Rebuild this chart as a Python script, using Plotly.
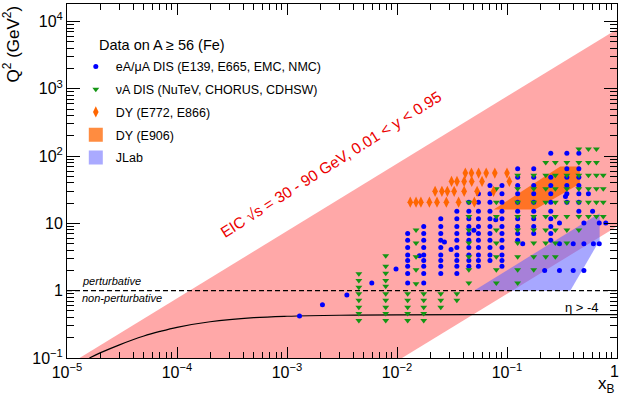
import numpy as np
import plotly.graph_objects as go

# ---- data ----
# EIC kinematic band (corners), sqrt(s)=30-90 GeV, 0.01<y<0.95
eic_x = [1.3e-5, 1.0, 1.0, 0.0111]
eic_q2 = [0.1, 7700.0, 9.0, 0.1]

# JLab region
jlab_x = [0.050, 0.695, 0.695, 0.376, 0.050]
jlab_q2 = [1.0, 14.2, 5.6, 1.0, 1.0]

# DY E906 region
e906_x = [0.0755, 0.18, 0.46, 0.46, 0.305, 0.0755]
e906_q2 = [16.1, 16.1, 38.7, 69.8, 69.8, 16.1]

# eta > -4 acceptance curve
eta_x = [1.6e-5, 2e-5, 3e-5, 5e-5, 7e-5, 1e-4, 2e-4, 5e-4, 1e-3, 3e-3, 1e-2, 1e-1, 1.0]
eta_q2 = [0.100, 0.119, 0.157, 0.212, 0.248, 0.286, 0.346, 0.397, 0.417, 0.432, 0.438, 0.440, 0.441]

# eA / muA DIS (E139, E665, EMC, NMC) - columns in x
dis_col_x = [0.0125, 0.0175, 0.025, 0.035, 0.045, 0.055, 0.07, 0.09, 0.125, 0.175, 0.25, 0.35, 0.45]
dis_col_q2 = [
    [1.3, 1.8, 2.3, 2.8, 3.4, 4.4, 5.6, 7.1],
    [1.3, 1.8, 2.3, 2.8, 3.4, 4.4, 5.6, 7.1, 9.0],
    [1.8, 2.3, 2.8, 3.4, 4.4, 5.6, 7.1, 9.0, 11.7],
    [1.8, 2.3, 2.8, 3.4, 4.4, 5.6, 7.1, 9.0, 11.7, 15.2],
    [2.3, 2.8, 3.4, 4.4, 5.6, 7.1, 9.0, 11.7, 15.2, 20.7],
    [2.3, 2.8, 3.4, 4.4, 5.6, 7.1, 9.0, 11.7, 15.2, 20.7, 27.5],
    [2.8, 3.4, 4.4, 5.6, 7.1, 9.0, 11.7, 15.2, 20.7, 27.5, 36.5],
    [2.3, 2.8, 3.4, 4.4, 5.6, 7.1, 9.0, 11.7, 15.2, 20.7, 27.5, 36.5],
    [5.6, 7.1, 9.0, 11.7, 15.2, 20.7, 27.5, 36.5, 48.5, 64.6],
    [7.1, 9.0, 11.7, 15.2, 20.7, 27.5, 36.5, 48.5, 64.6],
    [5.6, 7.1, 9.0, 11.7, 15.2, 20.7, 27.5, 36.5, 48.5, 110],
    [20.7, 27.5, 36.5, 48.5, 64.6, 110],
    [15.2, 20.7, 27.5, 36.5, 48.5, 64.6, 110],
]
dis_extra_x = [0.0013, 0.0021, 0.0035, 0.0059, 0.0098, 0.016, 0.027, 0.031, 0.050, 0.079,
               0.139, 0.22, 0.30, 0.30, 0.30, 0.40, 0.40, 0.50, 0.50, 0.50, 0.61, 0.69, 0.69, 0.79,
               0.34, 0.55, 0.60]
dis_extra_q2 = [0.42, 0.62, 0.86, 1.3, 2.1, 3.3, 5.3, 4.1, 7.9, 11.3,
                5.0, 2.0, 10.1, 5.0, 2.0, 5.0, 2.0, 10.1, 5.0, 2.0, 5.0, 5.0, 10.1, 10.1,
                25.0, 27.5, 15.2]

# nuA DIS (NuTeV, CHORUS, CDHSW)
nu_col_x = [0.0045, 0.0079, 0.0125, 0.0149, 0.0175, 0.025, 0.035,
            0.045, 0.08, 0.125, 0.175, 0.225, 0.275, 0.35, 0.45, 0.55, 0.65, 0.75]
nu_col_q2 = [
    [0.36, 0.46, 0.57, 0.72, 0.90, 1.13, 1.42, 1.79],
    [0.36, 0.46, 0.57, 0.72, 0.90, 1.16, 1.42, 1.82, 2.3, 3.3],
    [0.36, 0.46, 0.57, 0.72, 0.90],
    [1.27, 2.05, 3.2, 5.1, 8.0],
    [0.36, 0.46, 0.57, 0.72, 0.90],
    [0.57, 0.72, 0.90],
    [0.72, 0.90],
    [1.3, 2.05, 3.2, 5.1, 8.0, 12.7, 20.7],
    [1.3, 2.05, 3.2, 5.1, 8.0, 12.7, 20.7, 32.6],
    [1.3, 2.05, 3.2, 5.1, 8.0, 12.7, 20.7, 32.6, 52],
    [2.05, 3.2, 5.1, 8.0, 12.7, 20.7, 32.6, 52],
    [3.2, 5.1, 8.0, 12.7, 20.7, 32.6, 52, 80],
    [3.2, 5.1, 8.0, 12.7, 20.7, 32.6, 52, 80],
    [5.1, 8.0, 12.7, 20.7, 32.6, 52, 80],
    [8.0, 12.7, 20.7, 32.6, 52, 80, 128],
    [12.7, 20.7, 32.6, 52, 80, 128],
    [12.7, 20.7, 32.6, 52, 80, 128],
    [12.7, 20.7, 32.6, 52],
]

# DY (E772, E866) - rows in Q2
dy_row_q2 = [20.7, 30.0, 42.0, 56.0]
dy_row_x = [
    [0.0132, 0.0149, 0.0165, 0.0197, 0.0231, 0.0281, 0.0363, 0.0505],
    [0.0222, 0.0256, 0.0287, 0.0331, 0.0408, 0.0535, 0.0755],
    [0.0313, 0.0351, 0.0408, 0.0478, 0.0593, 0.105],
    [0.0418, 0.0475, 0.0552, 0.0647, 0.0775, 0.100],
]

x_ticks = [1e-5, 1e-4, 1e-3, 1e-2, 1e-1, 1]
x_ticktext = ["10<sup>\u22125</sup>", "10<sup>\u22124</sup>", "10<sup>\u22123</sup>",
              "10<sup>\u22122</sup>", "10<sup>\u22121</sup>", ""]  # "1" drawn as annotation
y_ticks = [0.1, 1, 10, 100, 1000, 10000]
y_ticktext = ["10<sup>\u22121</sup>", "1", "10", "10<sup>2</sup>", "10<sup>3</sup>", "10<sup>4</sup>"]

# ---- build flat point lists ----
dis_x = [x for x, qs in zip(dis_col_x, dis_col_q2) for _ in qs] + dis_extra_x
dis_q2 = [q for qs in dis_col_q2 for q in qs] + dis_extra_q2
nu_x = [x for x, qs in zip(nu_col_x, nu_col_q2) for _ in qs]
nu_q2 = [q for qs in nu_col_q2 for q in qs]
dy_x = [x for xs in dy_row_x for x in xs]
dy_q2 = [q for q, xs in zip(dy_row_q2, dy_row_x) for _ in xs]

FONT = "Liberation Sans, Arial, sans-serif"

fig = go.Figure()

fig.add_trace(go.Scatter(x=eic_x, y=eic_q2, fill="toself", mode="none",
                         fillcolor="rgb(255,168,168)", showlegend=False, hoverinfo="skip"))
fig.add_trace(go.Scatter(x=jlab_x, y=jlab_q2, fill="toself", mode="none",
                         fillcolor="rgba(95,95,255,0.55)", showlegend=False, hoverinfo="skip"))
fig.add_trace(go.Scatter(x=e906_x, y=e906_q2, fill="toself", mode="none",
                         fillcolor="rgba(255,100,0,0.78)", showlegend=False, hoverinfo="skip"))

fig.add_trace(go.Scatter(x=[1e-5, 1], y=[1, 1], mode="lines",
                         line=dict(color="black", width=1.2, dash="5px,3px"),
                         showlegend=False, hoverinfo="skip"))
fig.add_trace(go.Scatter(x=eta_x, y=eta_q2, mode="lines", line=dict(color="black", width=1.2),
                         line_shape="spline", showlegend=False, hoverinfo="skip"))

fig.add_trace(go.Scatter(x=dis_x, y=dis_q2, mode="markers", name="eA/\u03bcA DIS (E139, E665, EMC, NMC)",
                         legendgroup="g1",
                         marker=dict(symbol="circle", size=5, color="rgb(0,0,255)")))
fig.add_trace(go.Scatter(x=nu_x, y=nu_q2, mode="markers", name="\u03bdA DIS (NuTeV, CHORUS, CDHSW)",
                         legendgroup="g2",
                         marker=dict(symbol="triangle-down", size=6, color="rgb(20,150,20)")))
fig.add_trace(go.Scatter(x=dy_x, y=dy_q2, mode="markers", name="DY (E772, E866)",
                         legendgroup="g3",
                         marker=dict(symbol="diamond-tall", size=8, color="rgb(255,102,0)")))
fig.add_trace(go.Scatter(x=[None], y=[None], mode="markers", name="DY (E906)", legendgroup="g4",
                         marker=dict(symbol="square", size=14, color="rgb(255,140,64)")))
fig.add_trace(go.Scatter(x=[None], y=[None], mode="markers", name="JLab", legendgroup="g5",
                         marker=dict(symbol="square", size=14, color="rgb(170,170,255)")))

axis_common = dict(type="log", showline=True, linecolor="black", linewidth=1, mirror="allticks",
                   ticks="inside", tickcolor="black", showgrid=False, zeroline=False,
                   automargin=False,
                   tickfont=dict(family=FONT, size=16, color="black"))

fig.update_xaxes(range=[-5, 0], tickmode="array", tickvals=x_ticks, ticktext=x_ticktext,
                 ticklen=11,
                 minor=dict(tickmode="array", ticks="inside", ticklen=6, tickcolor="black",
                            tickvals=[k * 10.0 ** e for e in range(-5, 0) for k in range(2, 10)]),
                 **axis_common)
fig.update_yaxes(range=[-1, 4.26], tickmode="array", tickvals=y_ticks, ticktext=y_ticktext,
                 ticklen=13,
                 minor=dict(tickmode="array", ticks="inside", ticklen=7, tickcolor="black",
                            tickvals=[k * 10.0 ** e for e in range(-1, 5) for k in range(2, 10)]),
                 **axis_common)

annotations = [
    dict(text="Data on A \u2265 56 (Fe)", xref="paper", yref="paper", x=0.055, y=0.884,
         xanchor="left", yanchor="middle", showarrow=False, font=dict(family=FONT, size=14.5)),
    dict(text="EIC \u221as = 30 - 90 GeV, 0.01 < y < 0.95", xref="x", yref="y",
         x=-2.604, y=1.87, textangle=-32.5, showarrow=False,
         font=dict(family=FONT, size=15.5, color="rgb(235,0,0)")),
    dict(text="<i>perturbative</i>", xref="x", yref="y", x=np.log10(1.3e-5), y=np.log10(1.4),
         xanchor="left", yanchor="middle", showarrow=False, font=dict(family=FONT, size=11)),
    dict(text="<i>non-perturbative</i>", xref="x", yref="y", x=np.log10(1.3e-5), y=np.log10(0.77),
         xanchor="left", yanchor="middle", showarrow=False, font=dict(family=FONT, size=11)),
    dict(text="\u03b7 > -4", xref="x", yref="y", x=np.log10(0.32), y=np.log10(0.57),
         xanchor="left", yanchor="middle", showarrow=False, font=dict(family=FONT, size=13)),
    dict(text="1", xref="paper", yref="paper", x=0.995, y=-0.038,
         xanchor="center", yanchor="middle", showarrow=False, font=dict(family=FONT, size=16)),
    dict(text="Q<sup>2</sup> (GeV<sup>2</sup>)", xref="paper", yref="paper", x=-0.102, y=1.0,
         xanchor="center", yanchor="top", textangle=-90, showarrow=False, borderpad=0,
         font=dict(family=FONT, size=17)),
    dict(text="x<sub>B</sub>", xref="paper", yref="paper", x=0.98, y=-0.075,
         xanchor="center", yanchor="middle", showarrow=False, font=dict(family=FONT, size=17)),
]

fig.update_layout(
    width=620, height=399,
    margin=dict(l=67, r=3, t=4, b=41),
    plot_bgcolor="white", paper_bgcolor="white",
    font=dict(family=FONT, color="black"),
    annotations=annotations,
    legend=dict(x=0.016, y=0.865, xanchor="left", yanchor="top", bgcolor="rgba(0,0,0,0)",
                font=dict(family=FONT, size=12.5), borderwidth=0,
                traceorder="grouped", tracegroupgap=3.5),
)

# the page body has a default 8px margin; drop it so the figure sits at the window origin
fig.write_html("out.html", config={"displayModeBar": False},
               post_script="document.body.style.margin='0px';")
